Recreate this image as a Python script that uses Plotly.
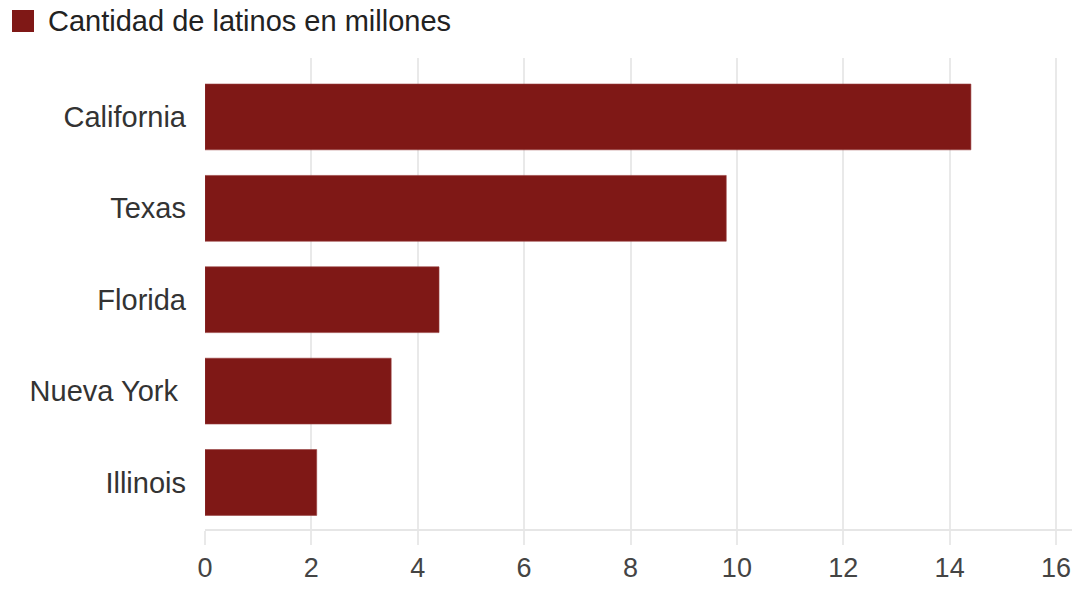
import plotly.graph_objects as go

states = ["California", "Texas", "Florida", "Nueva York ", "Illinois"]
values = [14.4, 9.8, 4.4, 3.5, 2.1]
series_name = "Cantidad de latinos en millones"
x_ticks = [0, 2, 4, 6, 8, 10, 12, 14, 16]

BAR = "#7f1816"
FONT = "Liberation Sans, Arial, sans-serif"

fig = go.Figure()
fig.add_trace(go.Bar(
    x=values, y=states, orientation="h",
    marker=dict(color=BAR, line=dict(color="rgba(150,60,60,0.6)", width=1)),
    width=0.72, name=series_name, showlegend=False,
))

W, H = 1077, 606
L, R, T, B = 205, 5, 58, 77
plot_w = W - L - R
x_max = 16 * plot_w / (1056 - 205)

fig.update_layout(
    width=W, height=H,
    margin=dict(l=L, r=R, t=T, b=B, pad=0),
    paper_bgcolor="white", plot_bgcolor="white",
    font=dict(family=FONT),
    xaxis=dict(
        range=[0, x_max], tickvals=x_ticks, ticktext=[str(v) for v in x_ticks],
        showgrid=True, gridcolor="#e9e9e9", gridwidth=2,
        zeroline=False, showline=True, linecolor="#e6e6e6", linewidth=2,
        ticks="outside", ticklen=14, tickcolor="#e9e9e9", tickwidth=2,
        tickfont=dict(size=27, color="#444444"),
    ),
    yaxis=dict(
        range=[4.509, -0.645], showgrid=False, zeroline=False, showline=False,
        ticks="", ticklabelstandoff=18,
        tickfont=dict(size=29, color="#333333"),
    ),
    shapes=[dict(type="rect", xref="paper", yref="paper",
                 x0=-(L - 12) / plot_w, x1=-(L - 34) / plot_w,
                 y0=1 + (T - 32) / (H - T - B), y1=1 + (T - 10) / (H - T - B),
                 fillcolor=BAR, line=dict(width=0))],
    annotations=[dict(text=series_name, xref="paper", yref="paper",
                      x=-(L - 46) / plot_w, y=1 + (T - 21) / (H - T - B),
                      xanchor="left", yanchor="middle", showarrow=False,
                      font=dict(size=29, color="#222222", family=FONT))],
)

fig.write_html("out.html")
